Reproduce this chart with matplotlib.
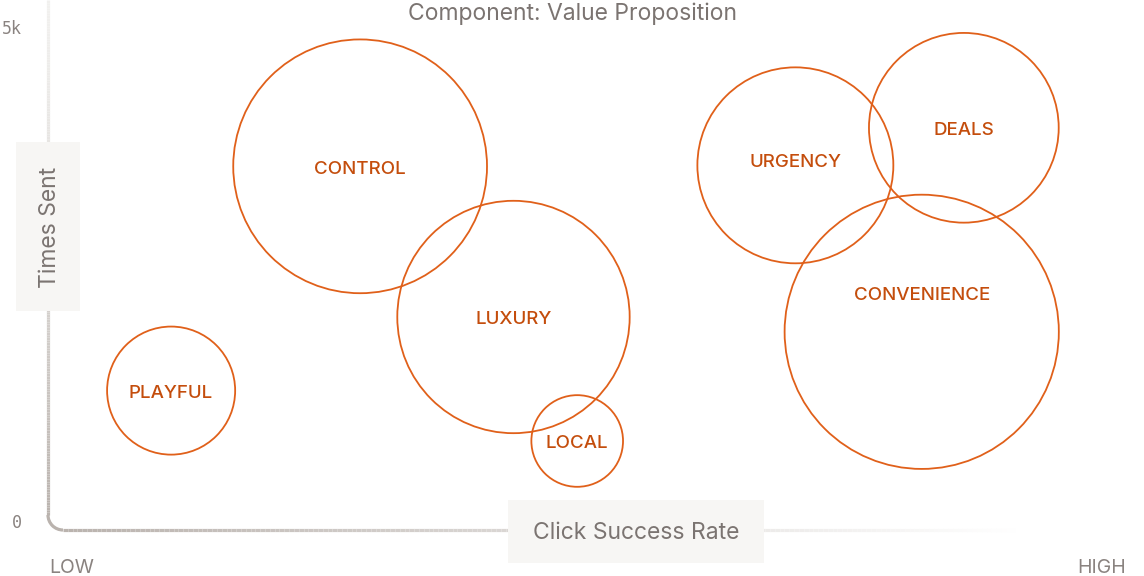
"""Bubble chart: Value Proposition components, click success vs times sent."""

import matplotlib
matplotlib.use("Agg")
import matplotlib.pyplot as plt
from matplotlib.collections import LineCollection
from matplotlib.patches import Rectangle, Arc
import matplotlib.colors as mcolors
import numpy as np

plt.rcParams["font.family"] = ["Inter", "DejaVu Sans"]

# ---------------------------------------------------------------------------
# Data
# ---------------------------------------------------------------------------
labels      = ["PLAYFUL", "CONTROL", "LUXURY", "LOCAL", "URGENCY", "DEALS", "CONVENIENCE"]
click_rate  = [0.114, 0.289, 0.431, 0.490, 0.692, 0.848, 0.809]   # 0 = low, 1 = high
times_sent  = [1330, 3600, 2075, 820, 3610, 3990, 1925]
bubble_size = [41, 161, 135, 21, 96, 90, 188]

TITLE   = "Component: Value Proposition"
XLABEL  = "Click Success Rate"
YLABEL  = "Times Sent"

# ---------------------------------------------------------------------------
# Style
# ---------------------------------------------------------------------------
W, H, DPI  = 1144, 576, 100
EDGE       = "#E0601A"
LABEL_COL  = "#C44D0C"
GRAY_TEXT  = "#7b7471"
TICK_TEXT  = "#8a8380"
BOX_FILL   = "#f7f6f4"
AXIS_DARK  = "#bab3ae"
AXIS_LIGHT = "#f1f0ee"

# label nudges in pixels (positive = down)
label_dy = {"URGENCY": -6, "CONVENIENCE": -39}

fig = plt.figure(figsize=(W / DPI, H / DPI), dpi=DPI)
fig.patch.set_facecolor("white")

# overlay in pixel coordinates for the decorative axis frame
bg = fig.add_axes([0, 0, 1, 1])
bg.set_xlim(0, W)
bg.set_ylim(H, 0)
bg.axis("off")

x0, y_axis_bottom, corner_r = 48, 530, 15
lw = 2.3

# vertical axis with gradient (light top -> darker bottom)
n = 200
ys = np.linspace(0, y_axis_bottom - corner_r, n + 1)
segs = [[(x0, ys[i]), (x0, ys[i + 1])] for i in range(n)]
c_light = np.array(mcolors.to_rgb(AXIS_LIGHT))
c_dark = np.array(mcolors.to_rgb(AXIS_DARK))
t = np.linspace(0, 1, n) ** 1.3
cols = [tuple(c_light + (c_dark - c_light) * ti) for ti in t]
bg.add_collection(LineCollection(segs, colors=cols, linewidths=lw, capstyle="butt"))

# rounded corner
bg.add_patch(Arc((x0 + corner_r, y_axis_bottom - corner_r), 2 * corner_r, 2 * corner_r,
                 theta1=90, theta2=180, color=AXIS_DARK, lw=lw))

# horizontal axis fading to white on the right
xe = 1025
xs = np.linspace(x0 + corner_r, xe, n + 1)
segs = [[(xs[i], y_axis_bottom), (xs[i + 1], y_axis_bottom)] for i in range(n)]
c_white = np.array([1.0, 1.0, 1.0])
t = np.linspace(0, 1, n)
cols = [tuple(c_dark + (c_white - c_dark) * ti) for ti in t]
bg.add_collection(LineCollection(segs, colors=cols, linewidths=lw, capstyle="butt"))

# axis label boxes
bg.add_patch(Rectangle((508, 500), 256, 63, facecolor=BOX_FILL, edgecolor="none", zorder=3))
bg.text(636, 533, XLABEL, ha="center", va="center", fontsize=16.5,
        color=GRAY_TEXT, zorder=4)
bg.add_patch(Rectangle((16, 142), 64, 169, facecolor=BOX_FILL, edgecolor="none", zorder=3))
bg.text(50, 227, YLABEL, ha="center", va="center", fontsize=16.5, rotation=90,
        color=GRAY_TEXT, zorder=4)

# title, ticks, low/high
bg.text(573, 14, TITLE, ha="center", va="center", fontsize=16.5, color=GRAY_TEXT)
bg.text(22, 29, "5k", ha="right", va="center", fontsize=12,
        family="DejaVu Sans Mono", color=TICK_TEXT)
bg.text(22, 523, "0", ha="right", va="center", fontsize=12,
        family="DejaVu Sans Mono", color=TICK_TEXT)
bg.text(49, 568, "LOW", ha="left", va="center", fontsize=14, color=TICK_TEXT)
bg.text(1126, 568, "HIGH", ha="right", va="center", fontsize=14, color=TICK_TEXT)

# ---------------------------------------------------------------------------
# Bubbles on data axes
# ---------------------------------------------------------------------------
ax = fig.add_axes([48 / W, (H - 522) / H, 1080 / W, 494 / H])
ax.set_xlim(0, 1)
ax.set_ylim(0, 5000)
ax.axis("off")
ax.patch.set_alpha(0)

px_to_pt = 72 / DPI
radii_px = np.sqrt(np.array(bubble_size, dtype=float)) * 10
sizes = (2 * radii_px * px_to_pt) ** 2
ax.scatter(click_rate, times_sent, s=sizes, facecolors="none", edgecolors=EDGE,
           linewidths=1.3, clip_on=False, zorder=5)

for lab, x, y in zip(labels, click_rate, times_sent):
    dy = label_dy.get(lab, 0) + 3
    ax.annotate(lab, (x, y), xytext=(0, -dy * px_to_pt), textcoords="offset points",
                ha="center", va="center", fontsize=13.5, color=LABEL_COL,
                fontweight="medium", zorder=6)

fig.savefig("out.png", dpi=DPI, facecolor="white")
plt.close(fig)
